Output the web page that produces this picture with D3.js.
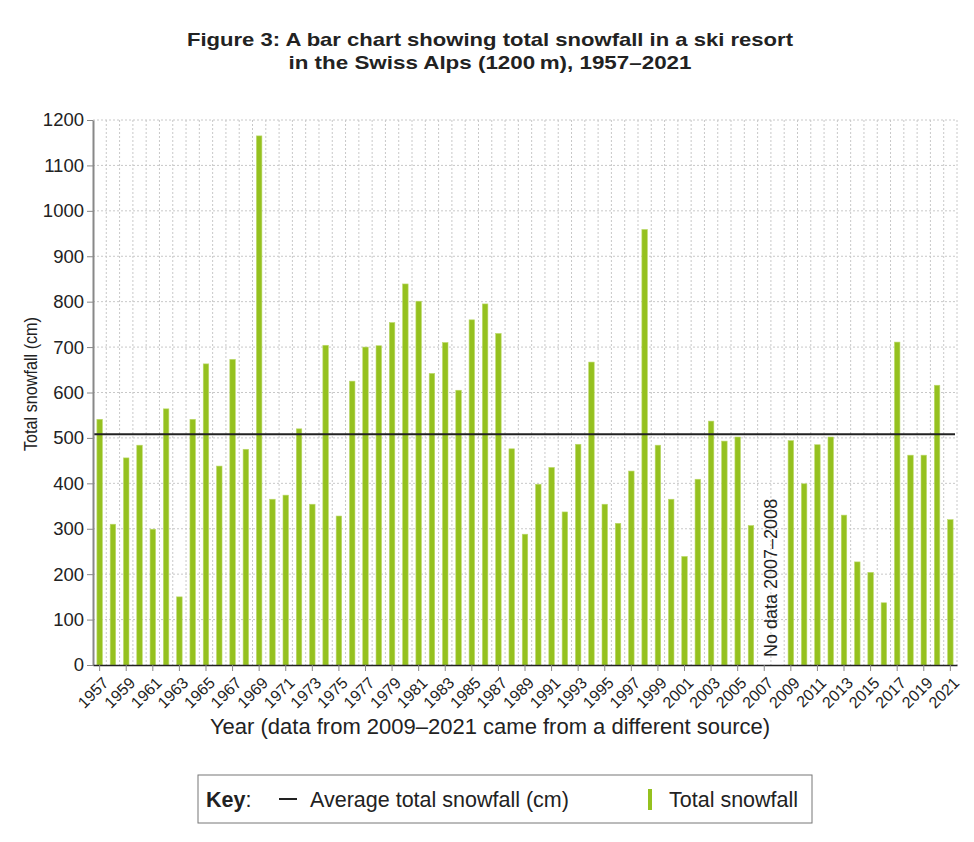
<!DOCTYPE html>
<html>
<head>
<meta charset="utf-8">
<script src="https://cdn.jsdelivr.net/npm/d3@7"></script>
<style>
  body { margin: 0; background: #fff; }
  text { font-family: "Liberation Sans", Arial, sans-serif; fill: #222; }
</style>
</head>
<body>
<div id="chart"></div>
<script>
const width = 974;
const height = 842;

// years 1957..2021, null = no data
const years = d3.range(1957, 2022);
const snowfall = [
  541, 310, 456, 484, 299, 564, 150, 541, 663, 438,
  673, 475, 1165, 365, 374, 520, 354, 704, 328, 625,
  700, 703, 754, 839, 801, 642, 710, 605, 760, 795,
  730, 476, 288, 398, 435, 337, 486, 667, 354, 312,
  427, 959, 484, 365, 239, 409, 537, 493, 502, 307,
  null, null, 494, 399, 485, 502, 330, 227, 204, 137,
  711, 462, 462, 616, 320
];
const average = 508;
const yTicks = d3.range(0, 1201, 100);
const labelYears = years.filter(y => (y - 1957) % 2 === 0);

const svg = d3.select("#chart")
  .append("svg")
  .attr("width", width)
  .attr("height", height);

const plotLeft = 93, plotRight = 957, plotTop = 120, plotBottom = 665;

const x = d3.scaleBand()
  .domain(years)
  .range([plotLeft, plotRight])
  .padding(0);

const y = d3.scaleLinear()
  .domain([0, 1200])
  .range([plotBottom, plotTop]);

// title (glyphs stretched a little to match the wide original face)
svg.append("text")
  .attr("x", 490).attr("y", 46)
  .attr("text-anchor", "middle")
  .attr("textLength", 606).attr("lengthAdjust", "spacingAndGlyphs")
  .style("font-size", "19px").style("font-weight", "bold")
  .text("Figure 3: A bar chart showing total snowfall in a ski resort");
svg.append("text")
  .attr("x", 490).attr("y", 69)
  .attr("text-anchor", "middle")
  .attr("textLength", 403).attr("lengthAdjust", "spacingAndGlyphs")
  .style("font-size", "19px").style("font-weight", "bold")
  .text("in the Swiss Alps (1200\u2009m), 1957\u20132021");

// grid
const grid = svg.append("g");
grid.selectAll(".hg")
  .data(yTicks.filter(d => d > 0))
  .enter().append("line")
  .attr("x1", plotLeft).attr("x2", plotRight)
  .attr("y1", d => y(d)).attr("y2", d => y(d))
  .attr("stroke", "#c8c8c8").attr("stroke-dasharray", "2,2");
grid.selectAll(".vg")
  .data(years)
  .enter().append("line")
  .attr("x1", d => x(d) + x.bandwidth()).attr("x2", d => x(d) + x.bandwidth())
  .attr("y1", plotTop).attr("y2", plotBottom)
  .attr("stroke", "#c8c8c8").attr("stroke-dasharray", "2,2");

// bars
const barW = 5.5;
svg.selectAll(".bar")
  .data(years.map((yr, i) => ({ yr, v: snowfall[i] })).filter(d => d.v !== null))
  .enter().append("rect")
  .attr("class", "bar")
  .attr("x", d => x(d.yr) + x.bandwidth() / 2 - barW / 2)
  .attr("y", d => y(d.v))
  .attr("width", barW)
  .attr("height", d => plotBottom - y(d.v))
  .attr("fill", "#95c11f")
  .attr("stroke", "#bcd96a")
  .attr("stroke-width", 0.6);

// average line
svg.append("line")
  .attr("x1", plotLeft).attr("x2", plotRight - 2)
  .attr("y1", y(average)).attr("y2", y(average))
  .attr("stroke", "#222").attr("stroke-width", 2);

// y axis
const yAxis = svg.append("g")
  .attr("transform", `translate(${plotLeft},0)`)
  .call(d3.axisLeft(y).tickValues(yTicks).tickFormat(d3.format("d"))
    .tickSize(6).tickPadding(3).tickSizeOuter(0));
yAxis.select(".domain").attr("stroke", "#888").attr("stroke-width", 2);
yAxis.selectAll(".tick line").attr("stroke", "#888");
yAxis.selectAll(".tick text")
  .style("font-size", "18.5px")
  .style("font-family", "'Liberation Sans', Arial, sans-serif")
  .attr("fill", "#222");

// x axis
const xAxis = svg.append("g")
  .attr("transform", `translate(0,${plotBottom})`)
  .call(d3.axisBottom(x).tickValues(labelYears).tickSize(6).tickSizeOuter(0));
xAxis.select(".domain").attr("stroke", "#222").attr("stroke-width", 1.5);
xAxis.selectAll(".tick line").attr("stroke", "#888");
xAxis.selectAll(".tick text")
  .style("font-size", "16px")
  .style("font-family", "'Liberation Sans', Arial, sans-serif")
  .attr("fill", "#222")
  .attr("text-anchor", "end")
  .attr("x", 0).attr("y", 0)
  .attr("dy", "0.35em")
  .attr("transform", "translate(6,15) rotate(-45)");

// no data note
const noteX = (x(2007) + x(2008) + x.bandwidth()) / 2;
svg.append("text")
  .attr("transform", `translate(${noteX + 6.5},657) rotate(-90)`)
  .style("font-size", "18px")
  .text("No data 2007\u20132008");

// axis titles
svg.append("text")
  .attr("transform", "translate(37,384) rotate(-90)")
  .attr("text-anchor", "middle")
  .attr("textLength", 134).attr("lengthAdjust", "spacingAndGlyphs")
  .style("font-size", "19px")
  .text("Total snowfall (cm)");
svg.append("text")
  .attr("x", 490).attr("y", 734)
  .attr("text-anchor", "middle")
  .style("font-size", "22px")
  .text("Year (data from 2009\u20132021 came from a different source)");

// legend
const key = svg.append("g");
key.append("rect")
  .attr("x", 198).attr("y", 775).attr("width", 614).attr("height", 48)
  .attr("fill", "none").attr("stroke", "#777").attr("stroke-width", 1);
const keyText = key.append("text").attr("x", 206).attr("y", 807).style("font-size", "21.5px");
keyText.append("tspan").style("font-weight", "bold").text("Key");
keyText.append("tspan").text(":");
key.append("line")
  .attr("x1", 279).attr("x2", 297).attr("y1", 799).attr("y2", 799)
  .attr("stroke", "#222").attr("stroke-width", 2);
key.append("text").attr("x", 310).attr("y", 807).style("font-size", "21.5px")
  .text("Average total snowfall (cm)");
key.append("rect")
  .attr("x", 648).attr("y", 789).attr("width", 4).attr("height", 21)
  .attr("fill", "#95c11f");
key.append("text").attr("x", 669).attr("y", 807).style("font-size", "21.5px")
  .text("Total snowfall");
</script>
</body>
</html>
